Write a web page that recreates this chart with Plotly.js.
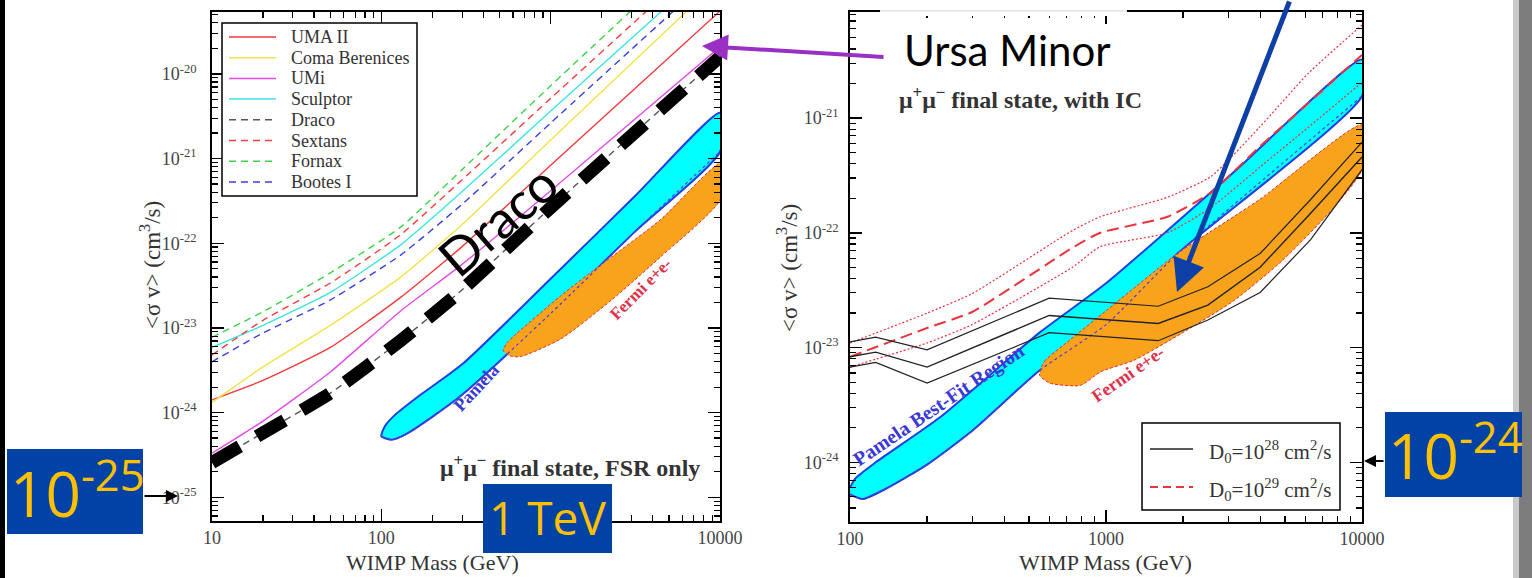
<!DOCTYPE html>
<html>
<head>
<meta charset="utf-8">
<script src="https://cdn.plot.ly/plotly-3.0.1.min.js"></script>
<style>
  html, body { margin: 0; padding: 0; background: #ffffff; }
  #chart { width: 1532px; height: 578px; }
</style>
</head>
<body>
<div id="chart"></div>
<script>
// ---------------------------------------------------------------
// Left panel: dwarf-galaxy upper limits, mu+mu- final state, FSR only
// masses in GeV, cross sections given as log10(<sigma v> / cm^3 s^-1)
// ---------------------------------------------------------------
const dwarfMass  = [10, 20, 50, 130, 300, 1000, 10000];
const logUmaII    = [-23.85, -23.62, -23.23, -22.64, -22.04, -21.08, -19.26];
const logComa     = [-23.88, -23.46, -22.97, -22.40, -21.78, -20.78, -18.89];
const logUMi      = [-24.48, -24.10, -23.52, -22.80, -22.25, -21.38, -19.68];
const logSculptor = [-23.23, -22.97, -22.58, -22.02, -21.39, -20.44, -18.64];
const logDraco    = [-24.59, -24.24, -23.77, -23.15, -22.55, -21.58, -19.80];
const logSextans  = [-23.32, -22.91, -22.47, -21.90, -21.25, -20.29, -18.47];
const logFornax   = [-23.11, -22.81, -22.35, -21.81, -21.13, -20.14, -18.28];
const logBootes   = [-23.40, -23.06, -22.67, -22.14, -21.54, -20.58, -18.76];

// Pamela and Fermi e+e- preferred regions (left panel)
const pamelaL_upMass = [100, 105, 120, 160, 300, 1000, 3160, 10000];
const pamelaL_upLog  = [-24.28, -24.16, -24.03, -23.83, -23.43, -22.42, -21.44, -20.46];
const pamelaL_loMass = [100, 115, 141, 200, 300, 1000, 3160, 10000];
const pamelaL_loLog  = [-24.28, -24.32, -24.25, -24.05, -23.79, -22.83, -21.86, -20.92];
const fermiL_upMass  = [525, 550, 603, 1148, 1995, 4467, 10000];
const fermiL_upLog   = [-23.27, -23.18, -23.10, -22.62, -22.25, -21.72, -21.06];
const fermiL_loMass  = [525, 575, 661, 1148, 2291, 4467, 10000];
const fermiL_loLog   = [-23.27, -23.33, -23.34, -23.13, -22.67, -22.16, -21.49];

// ---------------------------------------------------------------
// Right panel: mu+mu- final state with inverse Compton
// ---------------------------------------------------------------
const d28Mass  = [100, 126, 200, 600, 1600, 2500, 4000, 6300, 10000];
const logD28Hi  = [-22.95, -22.91, -23.02, -22.57, -22.64, -22.47, -22.18, -21.71, -21.21];
const logD28Mid = [-23.08, -23.04, -23.17, -22.72, -22.79, -22.63, -22.30, -21.83, -21.34];
const logD28Lo  = [-23.17, -23.13, -23.31, -22.87, -22.94, -22.76, -22.52, -22.06, -21.45];

const d29Mass  = [100, 200, 300, 740, 950, 1740, 2570, 3980, 6170, 10000];
const logD29Hi  = [-22.96, -22.70, -22.53, -21.98, -21.86, -21.69, -21.51, -21.08, -20.61, -20.19];
const logD29Mid = [-23.08, -22.83, -22.69, -22.13, -22.00, -21.86, -21.65, -21.25, -20.87, -20.45];
const logD29Lo  = [-23.17, -22.96, -22.80, -22.30, -22.12, -22.00, -21.78, -21.43, -21.08, -20.69];

const pamelaR_upMass = [100, 105, 126, 224, 550, 1000, 3160, 10000];
const pamelaR_upLog  = [-24.22, -24.14, -24.00, -23.61, -22.87, -22.44, -21.47, -20.49];
const pamelaR_loMass = [100, 112, 141, 200, 302, 550, 1000, 1905, 10000];
const pamelaR_loLog  = [-24.28, -24.32, -24.22, -24.02, -23.72, -23.20, -22.80, -22.18, -20.81];
const fermiR_upMass  = [550, 575, 708, 1000, 1905, 3981, 10000];
const fermiR_upLog   = [-23.24, -23.12, -22.95, -22.68, -22.18, -21.71, -21.06];
const fermiR_loMass  = [550, 603, 794, 955, 1288, 1995, 3162, 4898, 7762, 10000];
const fermiR_loLog   = [-23.24, -23.31, -23.33, -23.21, -23.11, -22.87, -22.59, -22.24, -21.78, -21.45];

// tick labels
const leftMassTicks  = [10, 100, 1000, 10000];
const leftMassText   = ['10', '100', '1000', '10000'];
const leftSvTicks    = [1e-25, 1e-24, 1e-23, 1e-22, 1e-21, 1e-20];
const leftSvText     = ['10<sup>-25</sup>', '10<sup>-24</sup>', '10<sup>-23</sup>', '10<sup>-22</sup>', '10<sup>-21</sup>', '10<sup>-20</sup>'];
const rightMassTicks = [100, 1000, 10000];
const rightMassText  = ['100', '1000', '10000'];
const rightSvTicks   = [1e-24, 1e-23, 1e-22, 1e-21];
const rightSvText    = ['10<sup>-24</sup>', '10<sup>-23</sup>', '10<sup>-22</sup>', '10<sup>-21</sup>'];

// ---------------------------------------------------------------
const W = 1532, H = 578;
const pow10 = arr => arr.map(v => Math.pow(10, v));
const closed = (upM, upL, loM, loL) => ({
  x: upM.concat(loM.slice().reverse()),
  y: pow10(upL.concat(loL.slice().reverse()))
});

function minorTicks(lo, hi) {
  const out = [];
  for (let e = lo; e < hi; e++) for (let k = 2; k <= 9; k++) out.push(k * Math.pow(10, e));
  return out;
}

const SERIF = 'Liberation Serif';
const traces = [];

// ----- left panel bands
const pamL = closed(pamelaL_upMass, pamelaL_upLog, pamelaL_loMass, pamelaL_loLog);
traces.push({ x: pamL.x, y: pamL.y, xaxis: 'x', yaxis: 'y', mode: 'lines', fill: 'toself',
  fillcolor: '#00ffff', line: { color: '#1f3fe0', width: 2, shape: 'spline', smoothing: 0.6 }, showlegend: false });
const ferL = closed(fermiL_upMass, fermiL_upLog, fermiL_loMass, fermiL_loLog);
traces.push({ x: ferL.x, y: ferL.y, xaxis: 'x', yaxis: 'y', mode: 'lines', fill: 'toself',
  fillcolor: '#f9a21b', line: { color: '#e0303a', width: 1, dash: '3px,2px', shape: 'spline', smoothing: 0.6 }, showlegend: false });
traces.push({ x: pamelaL_loMass, y: pow10(pamelaL_loLog), xaxis: 'x', yaxis: 'y', mode: 'lines',
  line: { color: '#5a3ad0', width: 1.2, dash: '3px,3px', shape: 'spline', smoothing: 0.6 }, showlegend: false });

// ----- left panel dwarf limits (legend order)
const dwarfs = [
  { name: 'UMA II',         vals: logUmaII,    color: '#ee3b3b', dash: 'solid' },
  { name: 'Coma Berenices', vals: logComa,     color: '#f2e34c', dash: 'solid' },
  { name: 'UMi',            vals: logUMi,      color: '#e14ce6', dash: 'solid' },
  { name: 'Sculptor',       vals: logSculptor, color: '#3fe3e3', dash: 'solid' },
  { name: 'Draco',          vals: logDraco,    color: '#555555', dash: '7px,5px' },
  { name: 'Sextans',        vals: logSextans,  color: '#ee4040', dash: '7px,5px' },
  { name: 'Fornax',         vals: logFornax,   color: '#3fd24a', dash: '7px,5px' },
  { name: 'Bootes I',       vals: logBootes,   color: '#3b3fe0', dash: '7px,5px' }
];
dwarfs.forEach(d => {
  traces.push({ x: dwarfMass, y: pow10(d.vals), xaxis: 'x', yaxis: 'y', mode: 'lines', name: d.name,
    line: { color: d.color, width: 1.4, dash: d.dash, shape: 'spline', smoothing: 0.5 }, showlegend: false });
});
// heavy dashed highlight on the Draco limit
traces.push({ x: dwarfMass, y: pow10(logDraco), xaxis: 'x', yaxis: 'y', mode: 'lines',
  line: { color: '#000000', width: 13, dash: '32px,20px', shape: 'spline', smoothing: 0.5 }, showlegend: false });

// ----- right panel bands
const pamR = closed(pamelaR_upMass, pamelaR_upLog, pamelaR_loMass, pamelaR_loLog);
traces.push({ x: pamR.x, y: pamR.y, xaxis: 'x2', yaxis: 'y2', mode: 'lines', fill: 'toself',
  fillcolor: '#00ffff', line: { color: '#1f3fe0', width: 2, shape: 'spline', smoothing: 0.6 }, showlegend: false });
const ferR = closed(fermiR_upMass, fermiR_upLog, fermiR_loMass, fermiR_loLog);
traces.push({ x: ferR.x, y: ferR.y, xaxis: 'x2', yaxis: 'y2', mode: 'lines', fill: 'toself',
  fillcolor: '#f9a21b', line: { color: '#e0303a', width: 1, dash: '3px,2px', shape: 'spline', smoothing: 0.6 }, showlegend: false });
traces.push({ x: pamelaR_loMass, y: pow10(pamelaR_loLog), xaxis: 'x2', yaxis: 'y2', mode: 'lines',
  line: { color: '#5a3ad0', width: 1.2, dash: '3px,3px', shape: 'spline', smoothing: 0.6 }, showlegend: false });

// ----- right panel limits, D0 = 1e29 (red) and 1e28 (black)
const diffusion = [
  { name: 'D<sub>0</sub>=10<sup>28</sup> cm<sup>2</sup>/s', color: '#222222', dash: 'solid', width: 1.4 },
  { name: 'D<sub>0</sub>=10<sup>29</sup> cm<sup>2</sup>/s', color: '#e8343c', dash: '12px,6px', width: 2 }
];
traces.push({ x: d29Mass, y: pow10(logD29Hi), xaxis: 'x2', yaxis: 'y2', mode: 'lines',
  line: { color: '#e8343c', width: 1.2, dash: '2px,2px', shape: 'spline', smoothing: 0.5 }, showlegend: false });
traces.push({ x: d29Mass, y: pow10(logD29Lo), xaxis: 'x2', yaxis: 'y2', mode: 'lines',
  line: { color: '#e8343c', width: 1.2, dash: '2px,2px', shape: 'spline', smoothing: 0.5 }, showlegend: false });
traces.push({ x: d29Mass, y: pow10(logD29Mid), xaxis: 'x2', yaxis: 'y2', mode: 'lines', name: diffusion[1].name,
  line: { color: '#e8343c', width: 2, dash: '12px,6px', shape: 'spline', smoothing: 0.5 }, showlegend: false });
traces.push({ x: d28Mass, y: pow10(logD28Hi), xaxis: 'x2', yaxis: 'y2', mode: 'lines',
  line: { color: '#222222', width: 1.2 }, showlegend: false });
traces.push({ x: d28Mass, y: pow10(logD28Lo), xaxis: 'x2', yaxis: 'y2', mode: 'lines',
  line: { color: '#222222', width: 1.2 }, showlegend: false });
traces.push({ x: d28Mass, y: pow10(logD28Mid), xaxis: 'x2', yaxis: 'y2', mode: 'lines', name: diffusion[0].name,
  line: { color: '#222222', width: 1.4 }, showlegend: false });

// ---------------------------------------------------------------
function axisBase(extra) {
  return Object.assign({
    type: 'log', showgrid: false, zeroline: false,
    showline: true, linecolor: '#000', linewidth: 1.8, mirror: 'allticks',
    ticks: 'inside', ticklen: 12, tickwidth: 1.4, tickcolor: '#000',
    tickfont: { family: SERIF, size: 18, color: '#444' },
    tickmode: 'array'
  }, extra);
}
const minorCfg = vals => ({ tickmode: 'array', tickvals: vals, ticks: 'inside', ticklen: 6, tickwidth: 1.2, tickcolor: '#000' });

const layout = {
  width: W, height: H,
  margin: { l: 0, r: 0, t: 0, b: 0 },
  paper_bgcolor: '#ffffff', plot_bgcolor: '#ffffff',
  showlegend: false,
  xaxis: axisBase({ domain: [212 / W, 720 / W], range: [1, 4], anchor: 'y',
    tickvals: leftMassTicks, ticktext: leftMassText, ticklabelstandoff: 0, minor: minorCfg(minorTicks(1, 4)) }),
  yaxis: axisBase({ domain: [1 - 521 / H, 1 - 12 / H], range: [-25.28, -19.27], anchor: 'x',
    tickvals: leftSvTicks, ticktext: leftSvText, ticklabelstandoff: 10, minor: minorCfg(minorTicks(-26, -19)) }),
  xaxis2: axisBase({ domain: [850 / W, 1362 / W], range: [2, 4], anchor: 'y2',
    tickvals: rightMassTicks, ticktext: rightMassText, ticklabelstandoff: 0, minor: minorCfg(minorTicks(2, 4)) }),
  yaxis2: axisBase({ domain: [1 - 522 / H, 1 - 12 / H], range: [-24.52, -20.076], anchor: 'x2',
    tickvals: rightSvTicks, ticktext: rightSvText, ticklabelstandoff: 6, minor: minorCfg(minorTicks(-25, -20)) }),
  shapes: [],
  annotations: []
};

// ---------------------------------------------------------------
// helpers in page pixels
const S = layout.shapes, A = layout.annotations;
const rect = (x0, y0, x1, y1, fill, line) => ({ type: 'rect', xref: 'paper', yref: 'paper',
  x0: x0 / W, x1: x1 / W, y0: 1 - y1 / H, y1: 1 - y0 / H, fillcolor: fill,
  line: line || { width: 0 }, layer: 'above' });
const seg = (x0, y0, x1, y1, color, width, dash) => ({ type: 'line', xref: 'paper', yref: 'paper',
  x0: x0 / W, x1: x1 / W, y0: 1 - y0 / H, y1: 1 - y1 / H, line: { color, width, dash: dash || 'solid' }, layer: 'above' });
function label(x, y, text, font, extra) {
  return Object.assign({ xref: 'paper', yref: 'paper', x: x / W, y: 1 - y / H, text, showarrow: false,
    font, xanchor: 'center', yanchor: 'middle' }, extra || {});
}
function arrow(xh, yh, xt, yt, color, width, size) {
  return { xref: 'paper', yref: 'paper', x: xh / W, y: 1 - yh / H, ax: xt - xh, ay: yt - yh,
    axref: 'pixel', ayref: 'pixel', text: '', showarrow: true, arrowhead: 2, arrowsize: size,
    arrowwidth: width, arrowcolor: color, standoff: 0, startstandoff: 0 };
}

// page furniture
S.push(rect(0, 0, 5, H, '#000000'));
S.push(rect(1513, 0, 1519, H, '#c9c9c9'));
S.push(rect(1519, 0, W, H, '#7d7d7d'));
S.push(rect(880, 6, 1127, 16, '#ffffff'));
S.push(seg(880, 11, 1127, 11, '#d6d6d6', 1));

// legend of the left panel
S.push(rect(222, 23, 417, 196, '#ffffff', { color: '#000', width: 1.5 }));
dwarfs.forEach((d, i) => {
  const yy = 37 + i * 20.7;
  S.push(seg(229, yy, 276, yy, d.color, 1.5, d.dash));
  A.push(label(289, yy, d.name, { family: SERIF, size: 18, color: '#333' }, { xanchor: 'left' }));
});

// legend of the right panel
S.push(rect(1142, 423, 1340, 510, '#ffffff', { color: '#000', width: 1.5 }));
diffusion.forEach((d, i) => {
  const yy = 449 + i * 38;
  S.push(seg(1150, yy, 1193, yy, d.color, d.width, d.dash === 'solid' ? 'solid' : '8px,5px'));
  A.push(label(1207, yy + 2, d.name, { family: SERIF, size: 21, color: '#333' }, { xanchor: 'left' }));
});

// highlight boxes
S.push(rect(7, 449, 143, 534, '#0142a6'));
S.push(rect(483, 484, 612, 553, '#0142a6'));
S.push(rect(1385, 412, 1522, 497, '#0142a6'));

const tickGray = '#333';
// axis titles
A.push(label(150, 265, '&lt;σ v&gt; (cm<sup>3</sup>/s)', { family: SERIF, size: 23, color: tickGray }, { textangle: -90 }));
A.push(label(787, 268, '&lt;σ v&gt; (cm<sup>3</sup>/s)', { family: SERIF, size: 23, color: tickGray }, { textangle: -90 }));
A.push(label(432, 562, 'WIMP Mass (GeV)', { family: SERIF, size: 22, color: tickGray }));
A.push(label(1105, 562, 'WIMP Mass (GeV)', { family: SERIF, size: 22, color: tickGray }));

// in-panel labels
A.push(label(570, 466, '<b>μ<sup>+</sup>μ<sup>−</sup> final state, FSR only</b>', { family: SERIF, size: 24, color: '#333' }));
A.push(label(1020, 98, '<b>μ<sup>+</sup>μ<sup>−</sup> final state, with IC</b>', { family: SERIF, size: 24, color: '#333' }));
A.push(label(476, 388, '<b>Pamela</b>', { family: SERIF, size: 18, color: '#3a38d8' }, { textangle: -47 }));
A.push(label(640, 289, '<b>Fermi e+e-</b>', { family: SERIF, size: 17, color: '#e0304a' }, { textangle: -45 }));
A.push(label(938, 405, '<b>Pamela Best-Fit Region</b>', { family: SERIF, size: 20, color: '#3a38d8' }, { textangle: -34 }));
A.push(label(1128, 374, '<b>Fermi e+e-</b>', { family: SERIF, size: 18, color: '#e0304a' }, { textangle: -35 }));

// slide callouts
A.push(label(497, 220, 'Draco', { family: 'Lato', size: 52, color: '#000' }, { textangle: -41 }));
A.push(label(902, 50, 'Ursa Minor', { family: 'Lato', size: 42, color: '#000' }, { xanchor: 'left' }));
A.push(label(77, 490, '10<sup>-25</sup>', { family: 'Open Sans', size: 62, color: '#ffc000' }));
A.push(label(547, 517, '1 TeV', { family: 'Open Sans', size: 46, color: '#ffc000' }));
A.push(label(1455, 452, '10<sup>-24</sup>', { family: 'Open Sans', size: 62, color: '#ffc000' }));

A.push(arrow(702, 46, 885, 57, '#9a2fc4', 4, 1.3));
A.push(arrow(1177, 292, 1290, -10, '#0d3fa6', 5, 1.3));
A.push(arrow(178, 496, 143, 496, '#000', 2, 1.2));
A.push(arrow(1364, 461, 1385, 461, '#000', 2, 1.2));

Plotly.newPlot('chart', traces, layout, { staticPlot: true, displayModeBar: false });
</script>
</body>
</html>
